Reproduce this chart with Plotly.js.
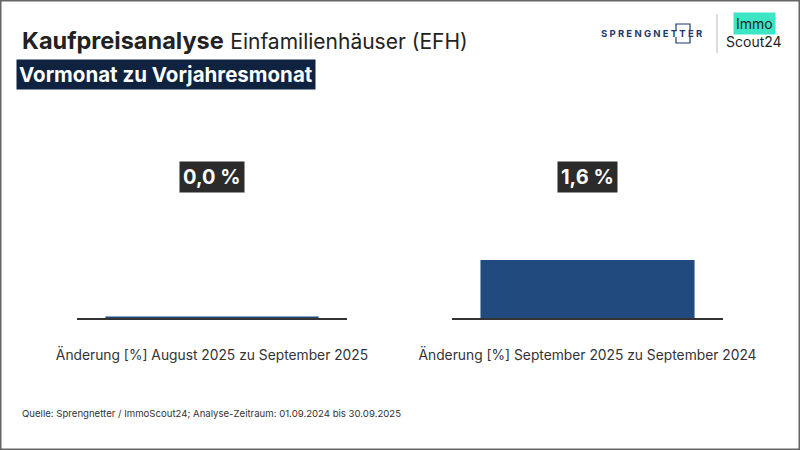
<!DOCTYPE html>
<html>
<head>
<meta charset="utf-8">
<script src="https://cdn.plot.ly/plotly-3.0.1.min.js"></script>
<style>
html,body{margin:0;padding:0;background:#fff;}
#chart{width:800px;height:450px;}
</style>
</head>
<body>
<div id="chart"></div>
<script>
// Data
const categories = [
  "Änderung [%] August 2025 zu September 2025",
  "Änderung [%] September 2025 zu September 2024"
];
const values = [0.0, 1.6];
const titleBold = "Kaufpreisanalyse";
const titleRest = "Einfamilienhäuser (EFH)";
const subtitle = "Vormonat zu Vorjahresmonat";
const source = "Quelle: Sprengnetter / ImmoScout24; Analyse-Zeitraum: 01.09.2024 bis 30.09.2025";

const barColor = "#214a7f";
const FONT = "Inter, 'Open Sans', sans-serif";

function fmt(v){ return v.toFixed(1).replace('.', ',') + ' %'; }

const traces = categories.map((c, i) => ({
  type: 'bar',
  x: [c],
  y: [values[i]],
  xaxis: i === 0 ? 'x' : 'x2',
  yaxis: i === 0 ? 'y' : 'y2',
  width: 0.79,
  marker: {color: barColor, line: {color: barColor, width: values[i] === 0 ? 3 : 0}},
  hoverinfo: 'none',
  showlegend: false,
  cliponaxis: false
}));

const yDomain = [(450-318)/450, (450-173)/450];
function xAxis(dom){
  return {
    domain: dom,
    range: [-0.5, 0.5],
    showgrid: false, zeroline: false,
    showline: true, linecolor: '#333', linewidth: 2,
    ticks: '', ticklabelstandoff: 23,
    tickfont: {family: FONT, size: 13.8, color: '#333'},
    fixedrange: true
  };
}
function yAxis(anchor){
  return {
    domain: yDomain, range: [0, 4], anchor: anchor,
    visible: false, showgrid: false, zeroline: false, fixedrange: true
  };
}

const annotations = [];
categories.forEach((c, i) => {
  annotations.push({
    xref: i === 0 ? 'x' : 'x2', yref: 'paper',
    x: c, y: (450-177)/450, yanchor: 'middle', xanchor: 'center',
    text: '<b>' + fmt(values[i]) + '</b>', showarrow: false,
    bgcolor: '#2b2b2b', borderpad: 3,
    font: {family: FONT, size: 20, color: '#fff'}
  });
});
// Titles
annotations.push({
  xref: 'paper', yref: 'paper', x: 20/800, y: 1-40/450, xanchor: 'left', yanchor: 'middle',
  showarrow: false,
  text: '<b>' + titleBold + '</b> <span style="font-size:21px">' + titleRest + '</span>',
  font: {family: FONT, size: 23.5, color: '#222'}
});
annotations.push({
  xref: 'paper', yref: 'paper', x: 16/800, y: 1-75/450, xanchor: 'left', yanchor: 'middle',
  showarrow: false, text: '<b>' + subtitle + '</b>',
  bgcolor: '#0f2341', borderpad: 2,
  font: {family: FONT, size: 20.5, color: '#fff'}
});
annotations.push({
  xref: 'paper', yref: 'paper', x: 20/800, y: 1-413/450, xanchor: 'left', yanchor: 'middle',
  showarrow: false, text: source,
  font: {family: FONT, size: 9.6, color: '#333'}
});
// Logos
annotations.push({
  xref: 'paper', yref: 'paper', x: 652/800, y: 1-33/450, xanchor: 'center', yanchor: 'middle',
  showarrow: false, text: '<b>S P R E N G N E T T E R</b>',
  font: {family: FONT, size: 9.5, color: '#1d3a6e'}
});
annotations.push({
  xref: 'paper', yref: 'paper', x: 754/800, y: 1-23/450, xanchor: 'center', yanchor: 'middle',
  showarrow: false, text: 'Immo', bgcolor: '#3ce6c5', borderpad: 2,
  font: {family: FONT, size: 14, color: '#222'}
});
annotations.push({
  xref: 'paper', yref: 'paper', x: 754/800, y: 1-41/450, xanchor: 'center', yanchor: 'middle',
  showarrow: false, text: 'Scout24',
  font: {family: FONT, size: 14, color: '#222'}
});

const shapes = [
  {type: 'rect', xref: 'paper', yref: 'paper', x0: 0, x1: 1, y0: 0, y1: 1,
   line: {color: '#666', width: 3}},
  {type: 'line', xref: 'paper', yref: 'paper', x0: 717/800, x1: 717/800, y0: 1-14/450, y1: 1-53/450,
   line: {color: '#bbb', width: 1}},
  // Sprengnetter bracket marks
  {type: 'path', xref: 'paper', yref: 'paper',
   path: 'M ' + (676/800) + ',' + (1-30/450) + ' L ' + (676/800) + ',' + (1-24/450) + ' L ' + (690/800) + ',' + (1-24/450) + ' L ' + (690/800) + ',' + (1-30/450),
   line: {color: '#1d3a6e', width: 1.2}},
  {type: 'path', xref: 'paper', yref: 'paper',
   path: 'M ' + (676/800) + ',' + (1-37/450) + ' L ' + (676/800) + ',' + (1-43/450) + ' L ' + (690/800) + ',' + (1-43/450) + ' L ' + (690/800) + ',' + (1-37/450),
   line: {color: '#1d3a6e', width: 1.2}}
];

const layout = {
  width: 800, height: 450,
  margin: {l: 0, r: 0, t: 0, b: 0},
  paper_bgcolor: '#fff', plot_bgcolor: 'rgba(0,0,0,0)',
  xaxis: xAxis([77/800, 347/800]),
  yaxis: yAxis('x'),
  xaxis2: Object.assign(xAxis([452/800, 723/800]), {anchor: 'y2'}),
  yaxis2: yAxis('x2'),
  annotations: annotations,
  shapes: shapes,
  showlegend: false
};

Plotly.newPlot('chart', traces, layout, {displayModeBar: false, staticPlot: true});
</script>
</body>
</html>
